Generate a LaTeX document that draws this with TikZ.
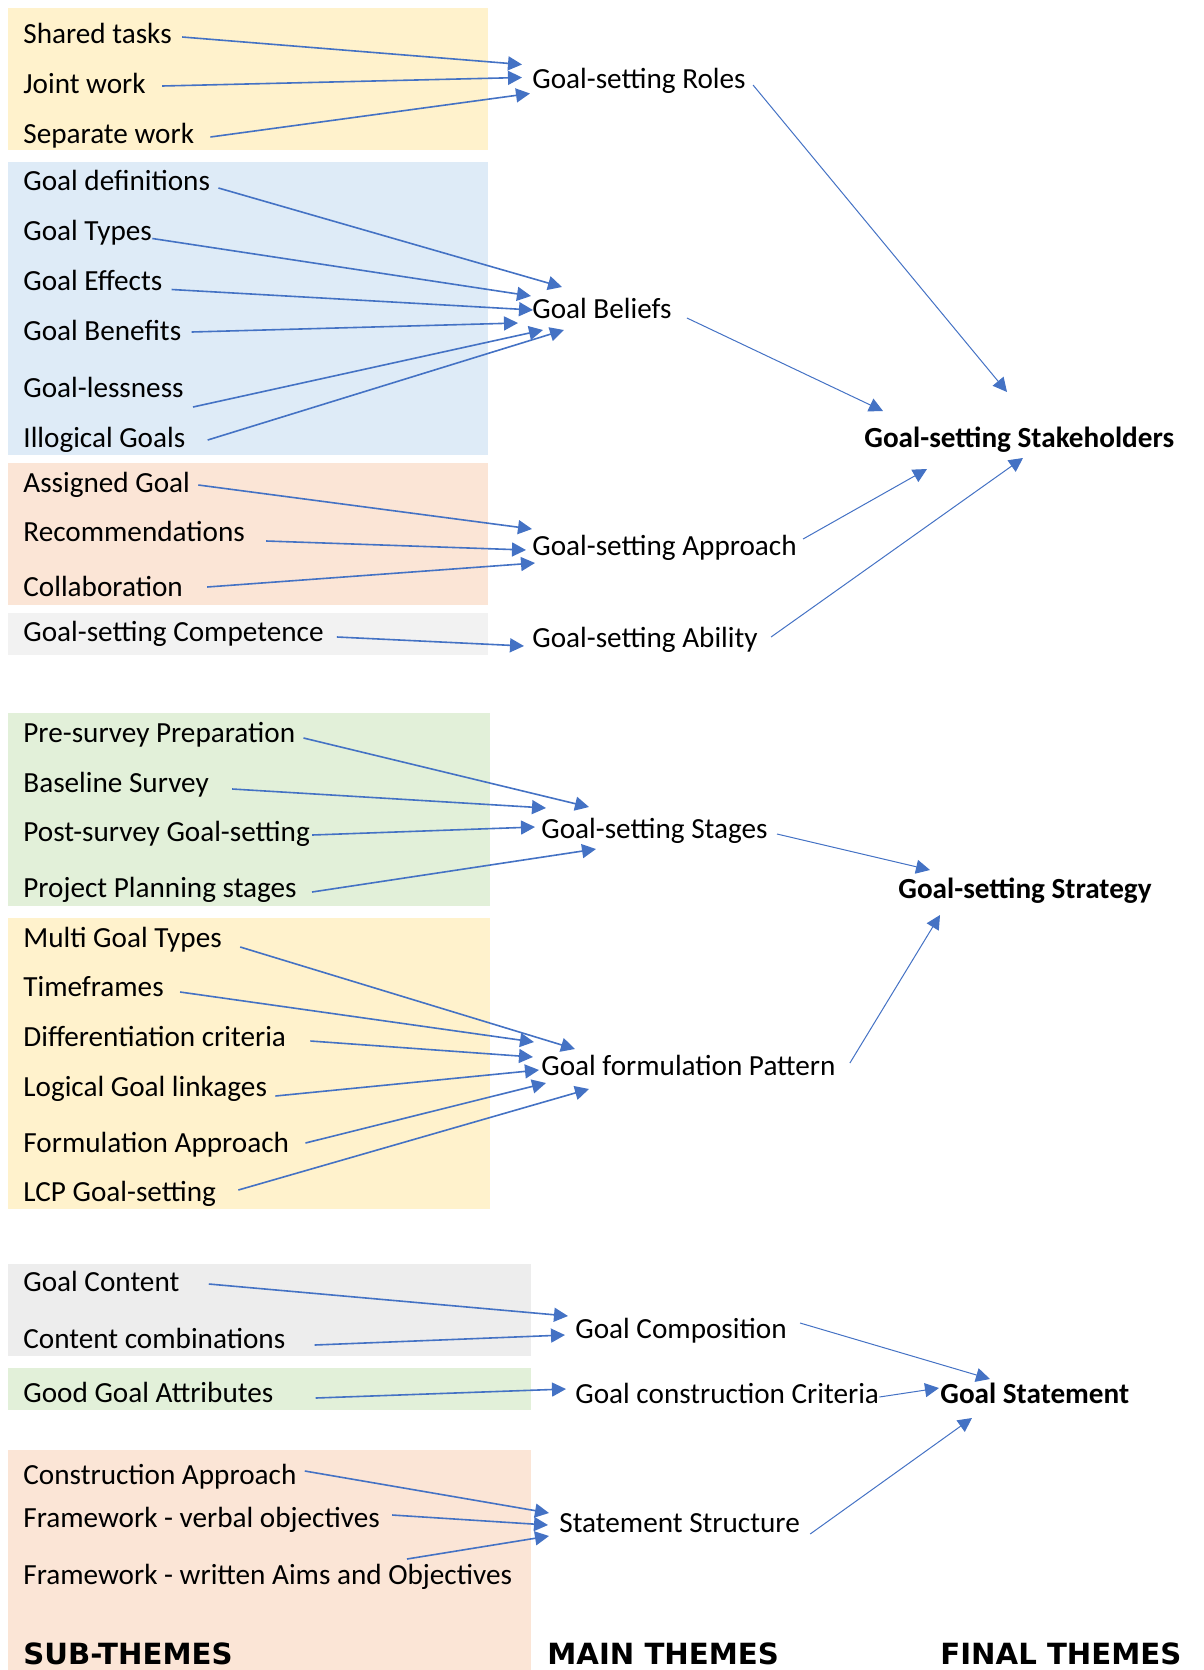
\documentclass[tikz,border=0pt]{standalone}
\usepackage{fontspec}
\setmainfont{Carlito}
\newfontfamily\headfont{DejaVu Sans}
\usepackage{tikz}
\usetikzlibrary{arrows.meta}
\definecolor{paneYellow}{HTML}{FFF2CC}
\definecolor{paneBlue}{HTML}{DEEBF7}
\definecolor{panePeach}{HTML}{FBE5D6}
\definecolor{paneGrey}{HTML}{F2F2F2}
\definecolor{paneGreen}{HTML}{E2F0D9}
\definecolor{paneGreyB}{HTML}{EDEDED}
\definecolor{arrowBlue}{HTML}{4472C4}

\begin{document}
\begin{tikzpicture}[
  x=0.5pt, y=-0.5pt,
  subtheme/.style={anchor=base west, inner sep=0pt, font=\fontsize{14.6}{17}\selectfont},
  maintheme/.style={anchor=base west, inner sep=0pt, font=\fontsize{14.6}{17}\selectfont},
  finaltheme/.style={anchor=base west, inner sep=0pt, font=\bfseries\fontsize{14.6}{17}\selectfont},
  colhead/.style={anchor=base west, inner sep=0pt, text depth=0pt, font=\headfont\bfseries\fontsize{14.6}{17}\selectfont},
  feed/.style={-{Triangle[length=7pt,width=7pt]}, draw=arrowBlue, line width=0.8pt},
  lead/.style={-{Triangle[length=7pt,width=7pt]}, draw=arrowBlue, line width=0.5pt}
]
\useasboundingbox (0,0) rectangle (1204,1670);
% coloured panels behind the sub-themes
\fill[paneYellow] (8,8) rectangle (488,150);
\fill[paneBlue]   (8,162) rectangle (488,455);
\fill[panePeach]  (8,463) rectangle (488,605);
\fill[paneGrey]   (8,613) rectangle (488,655);
\fill[paneGreen]  (8,713) rectangle (490,906);
\fill[paneYellow] (8,918) rectangle (490,1209);
\fill[paneGreyB]  (8,1264) rectangle (531,1356);
\fill[paneGreen]  (8,1368) rectangle (531,1410);
\fill[panePeach]  (8,1450) rectangle (531,1670);

% sub-themes
\node[subtheme] (shared)     at (23,43.5)  {Shared tasks};
\node[subtheme] (joint)      at (23,93.5)  {Joint work};
\node[subtheme] (separate)   at (23,143.5) {Separate work};
\node[subtheme] (gdef)       at (23,190.5) {Goal definitions};
\node[subtheme] (gtypes)     at (23,240.5) {Goal Types};
\node[subtheme] (geffects)   at (23,290.5) {Goal Effects};
\node[subtheme] (gbenefits)  at (23,340.5) {Goal Benefits};
\node[subtheme] (gless)      at (23,397.5) {Goal-lessness};
\node[subtheme] (illogical)  at (23,447.5) {Illogical Goals};
\node[subtheme] (assigned)   at (23,492)   {Assigned Goal};
\node[subtheme] (recomm)     at (23,541)   {Recommendations};
\node[subtheme] (collab)     at (23,596)   {Collaboration};
\node[subtheme] (competence) at (23,641)   {Goal-setting Competence};
\node[subtheme] (presurvey)  at (23,742)   {Pre-survey Preparation};
\node[subtheme] (baseline)   at (23,792)   {Baseline Survey};
\node[subtheme] (postsurvey) at (23,841)   {Post-survey Goal-setting};
\node[subtheme] (planning)   at (23,897)   {Project Planning stages};
\node[subtheme] (multi)      at (23,947)   {Multi Goal Types};
\node[subtheme] (timeframes) at (23,996)   {Timeframes};
\node[subtheme] (diffcrit)   at (23,1046)  {Differentiation criteria};
\node[subtheme] (linkages)   at (23,1096)  {Logical Goal linkages};
\node[subtheme] (formappr)   at (23,1152)  {Formulation Approach};
\node[subtheme] (lcp)        at (23,1201)  {LCP Goal-setting};
\node[subtheme] (content)    at (23,1291)  {Goal Content};
\node[subtheme] (combos)     at (23,1348)  {Content combinations};
\node[subtheme] (goodattr)   at (23,1402)  {Good Goal Attributes};
\node[subtheme] (constrappr) at (23,1484)  {Construction Approach};
\node[subtheme] (fwverbal)   at (23,1527)  {Framework - verbal objectives};
\node[subtheme] (fwwritten)  at (23,1584)  {Framework - written Aims and Objectives};

% main themes
\node[maintheme] (roles)       at (532,88)   {Goal-setting Roles};
\node[maintheme] (beliefs)     at (532,318)  {Goal Beliefs};
\node[maintheme] (approach)    at (532,555)  {Goal-setting Approach};
\node[maintheme] (ability)     at (532,647)  {Goal-setting Ability};
\node[maintheme] (stages)      at (541,838)  {Goal-setting Stages};
\node[maintheme] (pattern)     at (541,1075) {Goal formulation Pattern};
\node[maintheme] (composition) at (575,1338) {Goal Composition};
\node[maintheme] (criteria)    at (575,1403) {Goal construction Criteria};
\node[maintheme] (structure)   at (559,1532) {Statement Structure};

% final themes
\node[finaltheme] (stakeholders) at (864,447)  {Goal-setting Stakeholders};
\node[finaltheme] (strategy)     at (898,898)  {Goal-setting Strategy};
\node[finaltheme] (statement)    at (940,1403) {Goal Statement};

% column headings
\node[colhead] (hsub)   at (23,1664)  {SUB-THEMES};
\node[colhead] (hmain)  at (547,1664) {MAIN THEMES};
\node[colhead] (hfinal) at (940,1664) {FINAL THEMES};

% sub-themes -> main themes
\draw[feed] ([shift={(10,-6.5)}]shared.base east)    -- ([shift={(-10,-23.5)}]roles.base west);
\draw[feed] ([shift={(16,-7.5)}]joint.base east)     -- ([shift={(-10,-10.5)}]roles.base west);
\draw[feed] ([shift={(16,-6.5)}]separate.base east)  -- ([shift={(-2,5.5)}]roles.base west);
\draw[feed] ([shift={(8,-2.5)}]gdef.base east)       -- ([shift={(30,-31)}]beliefs.base west);
\draw[feed] ([shift={(0,-2)}]gtypes.base east)       -- ([shift={(-1,-22)}]beliefs.base west);
\draw[feed] ([shift={(9,-1)}]geffects.base east)     -- ([shift={(1,-8)}]beliefs.base west);
\draw[feed] ([shift={(10,-8.5)}]gbenefits.base east) -- ([shift={(-14,5)}]beliefs.base west);
\draw[feed] ([shift={(9,9.5)}]gless.base east)       -- ([shift={(11,12)}]beliefs.base west);
\draw[feed] ([shift={(22,-7.5)}]illogical.base east) -- ([shift={(32,12)}]beliefs.base west);
\draw[feed] ([shift={(8,-7)}]assigned.base east)     -- ([shift={(0,-26)}]approach.base west);
\draw[feed] ([shift={(21,0)}]recomm.base east)       -- ([shift={(-6,-5)}]approach.base west);
\draw[feed] ([shift={(24,-9)}]collab.base east)      -- ([shift={(3,8)}]approach.base west);
\draw[feed] ([shift={(13,-4)}]competence.base east)  -- ([shift={(-8,-1)}]ability.base west);
\draw[feed] ([shift={(8,-4)}]presurvey.base east)    -- ([shift={(48,-31)}]stages.base west);
\draw[feed] ([shift={(23,-3)}]baseline.base east)    -- ([shift={(5,-30)}]stages.base west);
\draw[feed] ([shift={(2,-6)}]postsurvey.base east)   -- ([shift={(-6,-11)}]stages.base west);
\draw[feed] ([shift={(15,-5)}]planning.base east)    -- ([shift={(55,11)}]stages.base west);
\draw[feed] ([shift={(18,0)}]multi.base east)        -- ([shift={(34,-26)}]pattern.base west);
\draw[feed] ([shift={(16,-4)}]timeframes.base east)  -- ([shift={(-7,-33)}]pattern.base west);
\draw[feed] ([shift={(24,-5)}]diffcrit.base east)    -- ([shift={(-8,-18)}]pattern.base west);
\draw[feed] ([shift={(8,0)}]linkages.base east)      -- ([shift={(-2,-5)}]pattern.base west);
\draw[feed] ([shift={(16,-9)}]formappr.base east)    -- ([shift={(5,8)}]pattern.base west);
\draw[feed] ([shift={(22,-11)}]lcp.base east)        -- ([shift={(48,14)}]pattern.base west);
\draw[feed] ([shift={(29,-7)}]content.base east)     -- ([shift={(-7,-22)}]composition.base west);
\draw[feed] ([shift={(29,-3)}]combos.base east)      -- ([shift={(-10,-3)}]composition.base west);
\draw[feed] ([shift={(42,-4)}]goodattr.base east)    -- ([shift={(-9,-14)}]criteria.base west);
\draw[feed] ([shift={(8,-13)}]constrappr.base east)  -- ([shift={(-10,-19)}]structure.base west);
\draw[feed] ([shift={(12,-12)}]fwverbal.base east)   -- ([shift={(-11,-7)}]structure.base west);
\draw[feed] ([shift={(384,-25)}]fwwritten.base west) -- ([shift={(-10,4)}]structure.base west);

% main themes -> final themes
\draw[lead] ([shift={(7,-3)}]roles.base east)        -- ([shift={(143,-55)}]stakeholders.base west);
\draw[lead] ([shift={(15,0)}]beliefs.base east)      -- ([shift={(19,-36)}]stakeholders.base west);
\draw[lead] ([shift={(6,-16)}]approach.base east)    -- ([shift={(63,22)}]stakeholders.base west);
\draw[lead] ([shift={(13,-10)}]ability.base east)    -- ([shift={(159,11)}]stakeholders.base west);
\draw[lead] ([shift={(9,-4)}]stages.base east)       -- ([shift={(32,-28)}]strategy.base west);
\draw[lead] ([shift={(14,-12)}]pattern.base east)    -- ([shift={(42,17)}]strategy.base west);
\draw[lead] ([shift={(13,-15)}]composition.base east) -- ([shift={(50,-24)}]statement.base west);
\draw[lead] ([shift={(0,-6)}]criteria.base east)     -- ([shift={(-1,-15)}]statement.base west);
\draw[lead] ([shift={(10,2)}]structure.base east)    -- ([shift={(32,15)}]statement.base west);
\end{tikzpicture}
\end{document}
